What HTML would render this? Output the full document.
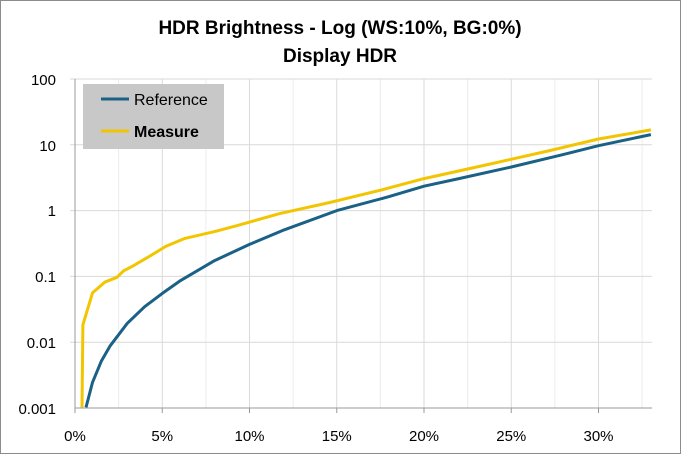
<!DOCTYPE html><html><head><style>body{margin:0;background:#fff}svg{display:block;font-family:"Liberation Sans",sans-serif}</style></head><body>
<svg id="s" width="681" height="454" xmlns="http://www.w3.org/2000/svg">
<rect x="0.5" y="0.5" width="680" height="453" fill="#fff" stroke="#8c8c8c"/>
<text x="340" y="34" text-anchor="middle" font-size="19" font-weight="bold">HDR Brightness - Log (WS:10%, BG:0%)</text>
<text x="340" y="62" text-anchor="middle" font-size="19" font-weight="bold">Display HDR</text>
<g id="grid"></g>
<g font-size="15" fill="#000" text-anchor="end">
<text x="56" y="85">100</text><text x="56" y="151">10</text><text x="56" y="216">1</text><text x="56" y="282">0.1</text><text x="56" y="348">0.01</text><text x="56" y="414">0.001</text></g>
<g id="xl" font-size="15" text-anchor="middle"></g>
<path id="ref" fill="none" stroke="#1b6186" stroke-width="3" stroke-linejoin="round"/>
<path id="mea" fill="none" stroke="#f2c500" stroke-width="3" stroke-linejoin="round"/>
<rect x="83" y="84" width="141" height="65" fill="#c8c8c8"/>
<line x1="101" y1="99" x2="129" y2="99" stroke="#1b6186" stroke-width="3"/>
<text x="134" y="105" font-size="16">Reference</text>
<line x1="101" y1="131" x2="129" y2="131" stroke="#f2c500" stroke-width="3"/>
<text x="134" y="137" font-size="16" font-weight="bold">Measure</text>
</svg>
<script>
var X=p=>75+p*17.45,Y=v=>210-65.8*Math.log10(v),g='',xl='';
for(var i=0;i<=13;i++){var x=X(i*2.5);g+=`<line x1="${x}" y1="79" x2="${x}" y2="408" stroke="${i%2?'#ececec':'#d9d9d9'}"/>`;if(i%2==0){xl+=`<text x="${x}" y="441">${i*2.5}%</text>`;g+=`<line x1="${x}" y1="408" x2="${x}" y2="413" stroke="#999"/>`}}
for(var d=0;d<5;d++){var y=79+d*65.8;g+=`<line x1="70" y1="${y}" x2="652" y2="${y}" stroke="#d9d9d9"/>`}
g+=`<line x1="75" y1="79" x2="75" y2="408" stroke="#999"/><line x1="75" y1="408" x2="652" y2="408" stroke="#999"/>`;
document.getElementById('grid').innerHTML=g;document.getElementById('xl').innerHTML=xl;
function P(a){return a.map((q,i)=>(i?'L':'M')+X(q[0]).toFixed(1)+' '+Y(q[1]).toFixed(1)).join(' ')}
document.getElementById('ref').setAttribute('d',P([[0.63,0.001],[1,0.0024],[1.5,0.005],[2,0.0085],[3,0.019],[4,0.034],[5,0.054],[6,0.083],[8,0.17],[10,0.3],[12,0.5],[15,0.98],[18,1.6],[20,2.3],[22,3],[25,4.5],[28,7],[30,9.5],[33,14]]));
document.getElementById('mea').setAttribute('d',P([[0.4,0.001],[0.45,0.018],[1,0.055],[1.7,0.08],[2.4,0.095],[2.8,0.12],[3.3,0.14],[4.3,0.2],[5.2,0.28],[6.3,0.37],[8,0.47],[9.2,0.57],[11.7,0.88],[14.6,1.3],[17.5,2],[20,3],[23.8,5],[27.2,8],[30,12],[33,16.5]]));
</script></body></html>
